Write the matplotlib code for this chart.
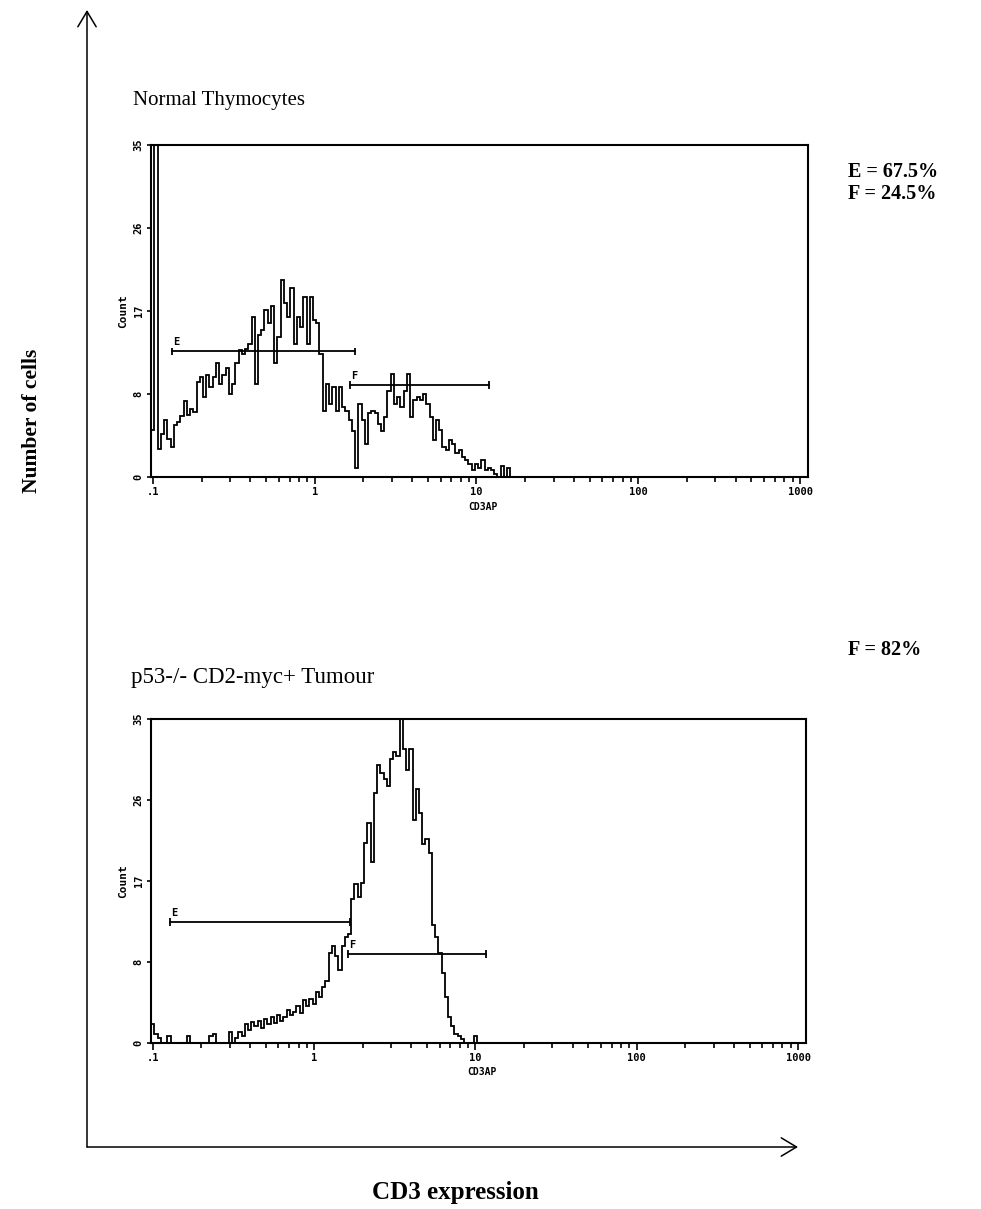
import numpy as np
import matplotlib
matplotlib.use("Agg")
import matplotlib.pyplot as plt
from matplotlib.patches import FancyArrowPatch

# ---------------- data ----------------
CHANNELS_PER_DECADE = 50
X_MIN, X_MAX = 0.097, 1120.0
Y_MAX = 35.0
y_tick_values = [0, 8.75, 17.5, 26.25, 35]
y_tick_labels = ["0", "8", "17", "26", "35"]
x_tick_values = [0.1, 1, 10, 100, 1000]
x_tick_labels = [".1", "1", "10", "100", "1000"]

# counts per channel (channel i centred at 0.1*10**(i/50))
normal_counts = [
    5.0, 38.0, 3.0, 4.5, 6.0, 4.0, 3.2, 5.5, 5.8, 6.4,
    8.0, 6.5, 7.2, 6.8, 10.0, 10.5, 8.4, 10.8, 9.5, 10.5,
    12.0, 9.8, 10.8, 11.5, 8.8, 9.8, 12.0, 13.4, 13.0, 13.5,
    14.0, 16.9, 9.8, 15.0, 15.5, 17.6, 16.2, 18.0, 12.0, 14.8,
    20.8, 18.3, 16.9, 19.9, 14.0, 16.9, 15.8, 19.0, 14.0, 19.0,
    16.5, 16.2, 13.0, 7.0, 9.8, 7.7, 9.5, 7.0, 9.5, 7.4,
    7.0, 6.0, 4.9, 1.0, 7.7, 6.0, 3.5, 6.7, 7.0, 6.7,
    5.6, 4.9, 6.3, 9.1, 10.9, 7.7, 8.4, 7.4, 9.1, 10.9,
    6.3, 8.1, 8.4, 8.1, 8.8, 7.7, 6.3, 3.9, 6.0, 5.0,
    3.2, 2.8, 3.9, 3.5, 2.5, 2.8, 2.1, 1.8, 1.4, 0.7,
    1.4, 1.0, 1.8, 0.7, 1.0, 0.7, 0.35, 0.0, 1.2, 0.0,
    0.9, 0.0, 0.0,
]
tumour_counts = [
    2.0, 1.0, 0.5, 0.0, 0.0, 0.8, 0.0, 0.0, 0.0, 0.0,
    0.0, 0.8, 0.0, 0.0, 0.0, 0.0, 0.0, 0.0, 0.8, 1.0,
    0.0, 0.0, 0.0, 0.0, 1.2, 0.0, 0.5, 1.2, 0.8, 2.0,
    1.4, 2.3, 1.8, 2.4, 1.6, 2.6, 2.0, 2.8, 2.2, 3.0,
    2.4, 2.8, 3.6, 3.0, 3.4, 4.0, 3.2, 4.6, 4.0, 4.8,
    4.2, 5.5, 5.0, 6.0, 6.7, 9.7, 10.5, 9.4, 7.9, 10.5,
    11.4, 11.8, 15.6, 17.2, 15.8, 17.3, 21.6, 23.8, 19.5, 27.0,
    30.0, 29.2, 28.5, 27.8, 30.7, 31.4, 31.0, 38.0, 31.8, 29.5,
    31.8, 24.1, 27.4, 24.8, 21.5, 22.0, 20.5, 12.8, 11.5, 9.7,
    7.6, 5.0, 2.8, 1.8, 1.0, 0.8, 0.4, 0.0, 0.0, 0.0,
    0.8, 0.0, 0.0,
]

# gates: (name, x_start, x_end, level)
normal_gates = [("E", 0.131, 1.77, 13.25), ("F", 1.65, 12.0, 9.67)]
tumour_gates = [("E", 0.128, 1.68, 13.05), ("F", 1.62, 11.7, 9.6)]

titles = ["Normal Thymocytes", "p53-/- CD2-myc+ Tumour"]
stats = [["E = 67.5%", "F = 24.5%"], ["F = 82%"]]

# ---------------- figure ----------------
W, H = 981, 1209
fig = plt.figure(figsize=(W / 100, H / 100), dpi=100)
fig.patch.set_facecolor("white")

MONO = "DejaVu Sans Mono"
SERIF = "Liberation Serif"


def rect(x0, y0, x1, y1):
    return [x0 / W, 1 - y1 / H, (x1 - x0) / W, (y1 - y0) / H]


def draw_panel(ax, counts, gates):
    n = len(counts)
    edges = 0.1 * 10 ** ((np.arange(n + 1) - 0.5) / CHANNELS_PER_DECADE)
    ax.stairs(counts, edges, baseline=0, color="black", lw=1.3)
    ax.set_xscale("log")
    ax.set_xlim(X_MIN, X_MAX)
    ax.set_ylim(0, Y_MAX)
    ax.set_xticks(x_tick_values)
    ax.set_xticklabels(x_tick_labels, fontfamily=MONO, fontweight="bold", fontsize=7.5)
    ax.xaxis.set_minor_locator(matplotlib.ticker.LogLocator(base=10, subs=np.arange(2, 10)))
    ax.xaxis.set_minor_formatter(matplotlib.ticker.NullFormatter())
    ax.set_yticks(y_tick_values)
    ax.set_yticklabels(y_tick_labels, fontfamily=MONO, fontweight="bold", fontsize=7.5,
                       rotation=90, va="center")
    ax.tick_params(axis="x", which="major", direction="out", length=5, width=1.2, pad=2)
    ax.tick_params(axis="x", which="minor", direction="out", length=3.5, width=1.2)
    ax.tick_params(axis="y", which="major", direction="out", length=3, width=1.2, pad=2)
    for s in ax.spines.values():
        s.set_linewidth(1.5)
    ax.set_ylabel("Count", fontfamily=MONO, fontweight="bold", fontsize=8, labelpad=1)
    ax.yaxis.set_label_coords(-0.034, 0.5)
    ax.set_xlabel("CD3AP", fontfamily=MONO, fontweight="bold", fontsize=7, labelpad=-3)
    ax.xaxis.set_label_coords(0.505, -0.075)
    for name, x0, x1, lev in gates:
        ax.plot([x0, x1], [lev, lev], color="black", lw=1.3)
        ax.vlines([x0, x1], lev - 0.4, lev + 0.4, color="black", lw=1.3)
        ax.text(x0 * 1.02, lev + 0.45, name, fontfamily=MONO, fontweight="bold",
                fontsize=7.5, ha="left", va="bottom")


ax1 = fig.add_axes(rect(150.7, 145, 808, 477))
draw_panel(ax1, normal_counts, normal_gates)
ax2 = fig.add_axes(rect(150.7, 719, 806, 1043))
draw_panel(ax2, tumour_counts, tumour_gates)

# overlay for annotations in pixel coordinates
ov = fig.add_axes([0, 0, 1, 1], zorder=-1)
ov.set_xlim(0, W)
ov.set_ylim(H, 0)
ov.axis("off")

ov.add_patch(FancyArrowPatch((87, 1147), (87, 10), arrowstyle="->,head_length=0.55,head_width=0.33",
                             mutation_scale=20, lw=1.1, color="black", shrinkA=0, shrinkB=0))
ov.add_patch(FancyArrowPatch((87, 1147), (798, 1147), arrowstyle="->,head_length=0.55,head_width=0.33",
                             mutation_scale=20, lw=1.1, color="black", shrinkA=0, shrinkB=0))

ov.text(133, 100, titles[0], fontfamily=SERIF, fontsize=15, ha="left", va="center")
ov.text(131, 678, titles[1], fontfamily=SERIF, fontsize=16.5, ha="left", va="center")

ov.text(848, 172, stats[0][0], fontfamily=SERIF, fontweight="bold", fontsize=14.5, ha="left", va="center")
ov.text(848, 194, stats[0][1], fontfamily=SERIF, fontweight="bold", fontsize=14.5, ha="left", va="center")
ov.text(848, 650, stats[1][0], fontfamily=SERIF, fontweight="bold", fontsize=14.5, ha="left", va="center")

ov.text(32, 421, "Number of cells", fontfamily=SERIF, fontweight="bold", fontsize=15.5,
        rotation=90, ha="center", va="center")
ov.text(455, 1193, "CD3 expression", fontfamily=SERIF, fontweight="bold", fontsize=18,
        ha="center", va="center")

fig.savefig("out.png", dpi=100, facecolor="white")
